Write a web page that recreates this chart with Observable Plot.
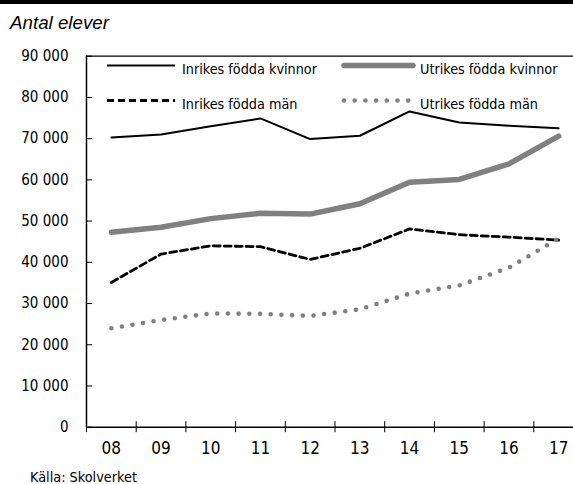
<!DOCTYPE html>
<html>
<head>
<meta charset="utf-8">
<script src="https://cdn.jsdelivr.net/npm/d3@7"></script>
<script src="https://cdn.jsdelivr.net/npm/@observablehq/plot@0.6"></script>
<style>
  html, body { margin: 0; padding: 0; background: #fff; }
  #wrap { position: relative; width: 573px; height: 484px; overflow: hidden; background: #fff; }
  #bar { position: absolute; left: 0; top: 0; width: 573px; height: 4px; background: #000; }
  #title { position: absolute; left: 10px; top: 12px; font-style: italic; font-family: "Liberation Sans", Arial, sans-serif; color: #000; white-space: nowrap; }
  #chart { position: absolute; left: 0; top: 40px; }
  #caption { position: absolute; left: 30px; color: #000; white-space: nowrap; }
  #legend { position: absolute; left: 0; top: 0; }
</style>
</head>
<body>
<div id="wrap">
  <div id="bar"></div>
  <div id="title">Antal elever</div>
  <div id="chart"></div>
  <div id="caption">Källa: Skolverket</div>
</div>
<script>
const years = [2008, 2009, 2010, 2011, 2012, 2013, 2014, 2015, 2016, 2017];
const xTickLabels = ["08", "09", "10", "11", "12", "13", "14", "15", "16", "17"];
const yTicks = [0, 10000, 20000, 30000, 40000, 50000, 60000, 70000, 80000, 90000];

const inrikesKvinnor = [70300, 71000, 73000, 74900, 69900, 70700, 76600, 73900, 73100, 72500];
const utrikesKvinnor = [47300, 48500, 50600, 51900, 51700, 54200, 59400, 60100, 63900, 70600];
const inrikesMan     = [35100, 42000, 44000, 43800, 40700, 43400, 48100, 46700, 46100, 45400];
const utrikesMan     = [24000, 26000, 27600, 27500, 27000, 28600, 32400, 34400, 38700, 45800];

const seriesNames = ["Inrikes födda kvinnor", "Utrikes födda kvinnor", "Inrikes födda män", "Utrikes födda män"];

const rows = (vals) => years.map((y, i) => ({year: y, value: vals[i]}));
const boundaries = years.map(y => y - 0.5);

const condensed = '"Liberation Sans Narrow", "DejaVu Sans Condensed", sans-serif';
const fmt = d3.formatLocale({decimal: ",", thousands: " ", grouping: [3], currency: ["", ""]}).format(",d");
const labelOf = new Map(years.map((y, i) => [y, xTickLabels[i]]));

// fit font sizes to the reference text widths (fonts differ from the original)
const ctx = document.createElement("canvas").getContext("2d");
function fit(text, family, target, style = "normal") {
  ctx.font = `${style} 100px ${family}`;
  return +(100 * target / ctx.measureText(text).width).toFixed(2);
}
const legFont = fit("Inrikes födda kvinnor", condensed, 135);
const capFont = fit("Källa: Skolverket", condensed, 107);
const titleFont = fit("Antal elever", '"Liberation Sans", Arial, sans-serif', 99, "italic");

const title = document.getElementById("title");
title.style.fontSize = titleFont + "px";
title.style.top = (29 - titleFont * 0.905) + "px";
const cap = document.getElementById("caption");
cap.style.font = `${capFont}px ${condensed}`;
cap.style.top = (482 - capFont * 0.93) + "px";

const styles = [
  {stroke: "#000", strokeWidth: 2},
  {stroke: "#808080", strokeWidth: 5.5, strokeLinecap: "round"},
  {stroke: "#000", strokeWidth: 2.8, strokeDasharray: "7,4"},
  {stroke: "#808080", strokeWidth: 4.6, strokeDasharray: "0,10.7", strokeLinecap: "round"}
];
const seriesVals = [inrikesKvinnor, utrikesKvinnor, inrikesMan, utrikesMan];

const plot = Plot.plot({
  width: 573,
  height: 422,
  marginLeft: 86,
  marginRight: -10,
  marginTop: 15.7,
  marginBottom: 35.3,
  style: {fontFamily: condensed, fontSize: "15px", color: "#000", background: "transparent", overflow: "hidden"},
  x: {type: "linear", domain: [2007.5, 2017.5], label: null},
  y: {domain: [0, 90000], label: null},
  marks: [
    Plot.axisY(yTicks, {tickSize: -6, tickPadding: 24, tickFormat: fmt, fontSize: 15, stroke: "#000", label: null}),
    Plot.axisX(years, {tickSize: 0, tickPadding: 15, tickFormat: d => labelOf.get(d), fontSize: 17, label: null}),
    Plot.axisX(boundaries, {tickSize: 11, dy: -5.5, tickFormat: () => "", stroke: "#000", label: null}),
    Plot.ruleY([0], {stroke: "#000", strokeWidth: 1.5}),
    Plot.ruleY([90000], {stroke: "#000", strokeWidth: 1.3}),
    Plot.ruleX([2007.5], {stroke: "#000", strokeWidth: 1.5}),
    ...seriesVals.map((v, i) => Plot.line(rows(v), {x: "year", y: "value", ...styles[i]}))
  ]
});
document.getElementById("chart").appendChild(plot);

// Legend (inside plot area, top)
const leg = d3.select("#wrap").append("svg")
  .attr("id", "legend").attr("width", 573).attr("height", 130);
const legPos = [
  {x1: 107, x2: 175, tx: 182, y: 65.5},
  {x1: 344, x2: 413, tx: 420, y: 65.5},
  {x1: 107, x2: 175, tx: 182, y: 100.5},
  {x1: 344, x2: 413, tx: 420, y: 100.5}
];
seriesNames.forEach((name, i) => {
  const p = legPos[i], s = styles[i];
  leg.append("line")
    .attr("x1", p.x1).attr("x2", p.x2).attr("y1", p.y).attr("y2", p.y)
    .attr("stroke", s.stroke).attr("stroke-width", s.strokeWidth)
    .attr("stroke-dasharray", s.strokeDasharray || null)
    .attr("stroke-linecap", s.strokeLinecap || null);
  leg.append("text")
    .attr("x", p.tx).attr("y", p.y + 8)
    .attr("font-family", condensed).attr("font-size", legFont)
    .attr("fill", "#000").text(name);
});
</script>
</body>
</html>
